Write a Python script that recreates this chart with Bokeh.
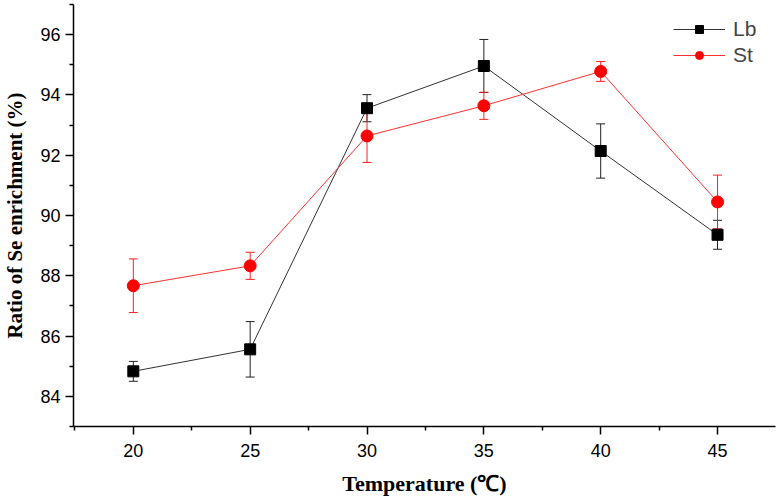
from bokeh.plotting import figure
from bokeh.models import (ColumnDataSource, Whisker, TeeHead, FixedTicker, Legend, LegendItem, Range1d)
from bokeh.embed import file_html
from bokeh.resources import INLINE

temps = [20, 25, 30, 35, 40, 45]
lb_vals = [84.83, 85.56, 93.56, 94.96, 92.14, 89.36]
lb_err = [0.33, 0.92, 0.45, 0.88, 0.90, 0.48]
st_vals = [87.67, 88.33, 92.64, 93.64, 94.78, 90.45]
st_err = [0.89, 0.45, 0.88, 0.45, 0.33, 0.89]

x_ticks = [20, 25, 30, 35, 40, 45]
x_minor = [17.5, 22.5, 27.5, 32.5, 37.5, 42.5, 47.5]
y_ticks = [84, 86, 88, 90, 92, 94, 96]
y_minor = [83, 85, 87, 89, 91, 93, 95, 97]

p = figure(width=779, height=501, output_backend="svg", toolbar_location=None,
           x_range=Range1d(17.44, 47.48), y_range=Range1d(83, 97),
           min_border_left=72, min_border_right=4, min_border_top=4, min_border_bottom=75)
p.outline_line_color = None
p.xgrid.visible = False
p.ygrid.visible = False

lb_src = ColumnDataSource(dict(x=temps, y=lb_vals,
                               lo=[v - e for v, e in zip(lb_vals, lb_err)],
                               hi=[v + e for v, e in zip(lb_vals, lb_err)]))
st_src = ColumnDataSource(dict(x=temps, y=st_vals,
                               lo=[v - e for v, e in zip(st_vals, st_err)],
                               hi=[v + e for v, e in zip(st_vals, st_err)]))

for src, col in ((lb_src, "#222222"), (st_src, "#ff2020")):
    w = Whisker(base="x", upper="hi", lower="lo", source=src, line_color=col, line_width=1,
                upper_head=TeeHead(size=9, line_color=col, line_width=1),
                lower_head=TeeHead(size=9, line_color=col, line_width=1))
    p.add_layout(w)

lb_line = p.line("x", "y", source=lb_src, line_color="#333333", line_width=1)
st_line = p.line("x", "y", source=st_src, line_color="#ff3030", line_width=1)
lb_pts = p.scatter("x", "y", source=lb_src, marker="square", size=11, color="black")
st_pts = p.scatter("x", "y", source=st_src, marker="circle", size=12, color="red")

legend = Legend(items=[LegendItem(label="Lb", renderers=[lb_line, lb_pts]),
                       LegendItem(label="St", renderers=[st_line, st_pts])],
                location=(600, 359), border_line_color=None, background_fill_alpha=0,
                glyph_width=52, glyph_height=20, label_standoff=8, spacing=2,
                label_text_font="Liberation Sans", label_text_font_size="21px",
                margin=0, padding=0)
p.add_layout(legend)

for ax in (p.xaxis[0], p.yaxis[0]):
    ax.axis_line_width = 1.5
    ax.axis_line_color = "black"
    ax.major_tick_line_color = "black"
    ax.minor_tick_line_color = "black"
    ax.major_tick_line_width = 1.5
    ax.minor_tick_line_width = 1.5
    ax.major_tick_out = 8
    ax.major_tick_in = 0
    ax.minor_tick_out = 4
    ax.minor_tick_in = 0
    ax.major_label_text_font = "Liberation Sans"
    ax.major_label_text_font_size = "18px"
    ax.major_label_text_color = "black"
    ax.axis_label_text_font = "Liberation Serif"
    ax.axis_label_text_font_style = "bold"
    ax.axis_label_text_color = "black"

p.xaxis[0].ticker = FixedTicker(ticks=x_ticks, minor_ticks=x_minor)
p.yaxis[0].ticker = FixedTicker(ticks=y_ticks, minor_ticks=y_minor)
p.xaxis[0].axis_label = "Temperature (℃)"
p.yaxis[0].axis_label = "Ratio of Se enrichment (%)"
p.xaxis[0].axis_label_text_font_size = "22px"
p.yaxis[0].axis_label_text_font_size = "21px"
p.xaxis[0].major_label_standoff = 9
p.xaxis[0].axis_label_standoff = 11
p.yaxis[0].major_label_standoff = 5
p.yaxis[0].axis_label_standoff = 10

open("out.html", "w").write(file_html(p, INLINE))
